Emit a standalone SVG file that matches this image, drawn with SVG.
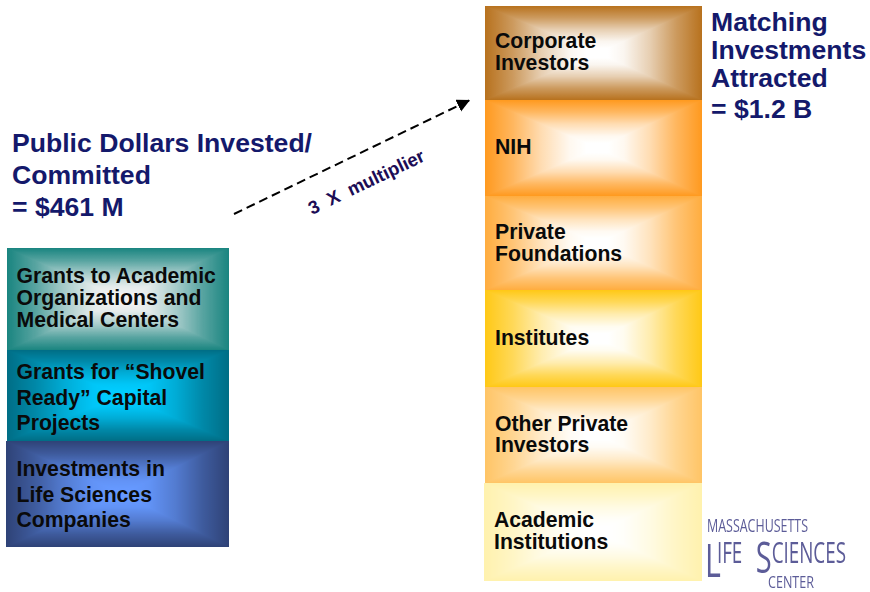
<svg xmlns="http://www.w3.org/2000/svg" width="870" height="592" viewBox="0 0 870 592">
<style>
text{font-family:"Liberation Sans",Arial,sans-serif;font-weight:700}
.t{font-size:26.6px;fill:#14196b}
.n{font-size:21.2px;fill:#0a0a0a}
.logo{font-family:"Open Sans","Liberation Sans",sans-serif;font-weight:400;fill:#5c5c98}
.c{mask:url(#pg)}
</style>
<defs>
<linearGradient id="gH" x1="0" y1="0" x2="1" y2="0"><stop offset="0" stop-color="#000"/><stop offset=".13" stop-color="#4a4a4a"/><stop offset=".26" stop-color="#a8a8a8"/><stop offset=".39" stop-color="#eee"/><stop offset=".468" stop-color="#fff"/><stop offset=".568" stop-color="#fff"/><stop offset=".64" stop-color="#eee"/><stop offset=".76" stop-color="#a8a8a8"/><stop offset=".88" stop-color="#4a4a4a"/><stop offset="1" stop-color="#000"/></linearGradient>
<linearGradient id="gT" x1="0" y1="0" x2="0" y2="1"><stop offset="0" stop-color="#000"/><stop offset=".25" stop-color="#4a4a4a"/><stop offset=".5" stop-color="#a8a8a8"/><stop offset=".75" stop-color="#eee"/><stop offset=".9" stop-color="#fff"/></linearGradient>
<linearGradient id="gB" x1="0" y1="1" x2="0" y2="0"><stop offset="0" stop-color="#000"/><stop offset=".25" stop-color="#4a4a4a"/><stop offset=".5" stop-color="#a8a8a8"/><stop offset=".75" stop-color="#eee"/><stop offset=".9" stop-color="#fff"/></linearGradient>
<mask id="pg" maskUnits="objectBoundingBox" maskContentUnits="objectBoundingBox" x="0" y="0" width="1" height="1">
<rect width="1" height="1" fill="url(#gH)"/>
<polygon points="0,0 1,0 .52,.5" fill="url(#gT)"/>
<polygon points="0,1 1,1 .52,.5" fill="url(#gB)"/>
</mask>
<filter id="soft" x="-5%" y="-5%" width="110%" height="110%"><feGaussianBlur stdDeviation=".45"/></filter>
<marker id="ah" markerUnits="userSpaceOnUse" markerWidth="15" markerHeight="15" refX="13" refY="6.5" orient="auto"><path d="M0 0L13 6.5L0 13z" fill="#000"/></marker>
</defs>
<rect width="870" height="592" fill="#fff"/>

<g id="title-public"><text class="t" x="12" y="152">Public Dollars Invested/</text><text class="t" x="12" y="184">Committed</text><text class="t" x="12" y="216">= $461 M</text></g>
<g id="title-matching"><text class="t" x="711" y="31">Matching</text><text class="t" x="711" y="59">Investments</text><text class="t" x="711" y="87">Attracted</text><text class="t" x="711" y="118">= $1.2 B</text></g>

<g id="connectors"><line x1="234" y1="214" x2="470" y2="100" stroke="#000" stroke-width="2" stroke-dasharray="9 5" marker-end="url(#ah)"/></g>
<g id="multiplier-label"><text transform="translate(312 215) rotate(-25.6)" xml:space="preserve" style="font-size:18.5px;fill:#1c0c55">3  X  multiplier</text></g>

<g id="node-grants-academic"><rect x="7" y="248" width="222" height="102" fill="#1a8580"/><rect class="c" x="7" y="248" width="222" height="102" fill="#f2f2f2"/><text class="n" x="16.5" y="283">Grants to Academic</text><text class="n" x="16.5" y="305">Organizations and</text><text class="n" x="16.5" y="327">Medical Centers</text></g>
<g id="node-grants-shovel"><rect x="7" y="350" width="222" height="91" fill="#006e86"/><rect class="c" x="7" y="350" width="222" height="91" fill="#00ccff"/><text class="n" x="16.5" y="379">Grants for “Shovel</text><text class="n" x="16.5" y="405">Ready” Capital</text><text class="n" x="16.5" y="430">Projects</text></g>
<g id="node-investments"><rect x="6" y="441" width="223" height="106" fill="#2f4377"/><rect class="c" x="6" y="441" width="223" height="106" fill="#6699ff"/><text class="n" x="16.5" y="476">Investments in</text><text class="n" x="16.5" y="502">Life Sciences</text><text class="n" x="16.5" y="527">Companies</text></g>

<g id="node-corporate"><rect x="485" y="6" width="217" height="94" fill="#b8721e"/><rect class="c" x="485" y="6" width="217" height="94" fill="#fff"/><text class="n" x="495" y="48">Corporate</text><text class="n" x="495" y="70">Investors</text></g>
<g id="node-nih"><rect x="485" y="100" width="217" height="96" fill="#ff9a1f"/><rect class="c" x="485" y="100" width="217" height="96" fill="#fff"/><text class="n" x="495" y="154">NIH</text></g>
<g id="node-foundations"><rect x="485" y="196" width="217" height="94" fill="#ffad3f"/><rect class="c" x="485" y="196" width="217" height="94" fill="#fff"/><text class="n" x="495" y="239">Private</text><text class="n" x="495" y="261">Foundations</text></g>
<g id="node-institutes"><rect x="485" y="290" width="217" height="97" fill="#ffc916"/><rect class="c" x="485" y="290" width="217" height="97" fill="#fff"/><text class="n" x="495" y="345">Institutes</text></g>
<g id="node-other"><rect x="485" y="387" width="217" height="96" fill="#ffc566"/><rect class="c" x="485" y="387" width="217" height="96" fill="#fff"/><text class="n" x="495" y="431">Other Private</text><text class="n" x="495" y="452">Investors</text></g>
<g id="node-academic"><rect x="484" y="483" width="218" height="98" fill="#fff2ae"/><rect class="c" x="484" y="483" width="218" height="98" fill="#fff"/><text class="n" x="494" y="527">Academic</text><text class="n" x="494" y="549">Institutions</text></g>

<g id="logo" filter="url(#soft)"><text class="logo" x="707" y="532" font-size="18" textLength="101" lengthAdjust="spacingAndGlyphs">MASSACHUSETTS</text><g transform="translate(707 0) scale(.66 1)"><text class="logo" font-size="28.5"><tspan x="-3" y="577" font-size="46">L</tspan><tspan x="15" y="563">IFE </tspan><tspan x="74" y="573" font-size="44">S</tspan><tspan x="98" y="563">CIENCES</tspan></text></g><text class="logo" x="768" y="588" font-size="16" textLength="46" lengthAdjust="spacingAndGlyphs">CENTER</text></g>
</svg>
